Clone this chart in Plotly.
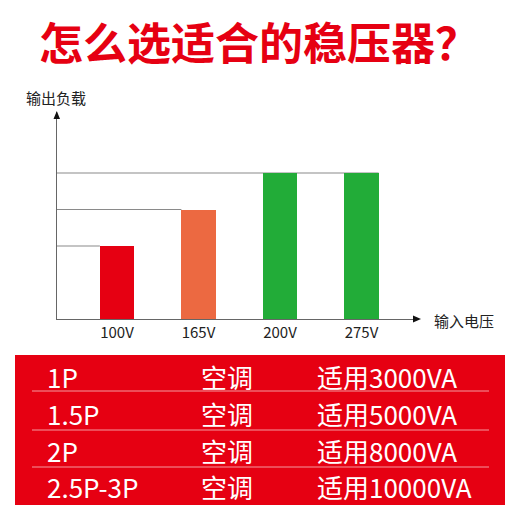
import plotly.graph_objects as go

W = H = 520

# ---- data ----
categories = ["100V", "165V", "200V", "275V"]
load_values = [2, 3, 4, 4]
bar_colors = ["#E60012", "#EC6941", "#22AC38", "#22AC38"]

title_text = "怎么选适合的稳压器？"
y_label = "输出负载"
x_label = "输入电压"

ac_power = ["1P", "1.5P", "2P", "2.5P-3P"]
ac_type = ["空调", "空调", "空调", "空调"]
ac_capacity = ["适用3000VA", "适用5000VA", "适用8000VA", "适用10000VA"]

FONT = "Noto Sans CJK SC"
RED = "#E60012"


def px(x):
    return x / W


def py(y):
    return 1 - y / H


# axis geometry (pixels)
ax_left, ax_right = 57, 415
ax_bottom, ax_top = 319, 112
unit_x = 81.5
first_center = 117
x_range = [-(first_center - ax_left) / unit_x, (ax_right - first_center) / unit_x]
unit_y = 36.5
y_range = [0, (ax_bottom - ax_top) / unit_y]
bar_w = 0.42

xs = list(range(len(categories)))

fig = go.Figure()
fig.add_trace(go.Bar(
    x=xs, y=load_values, width=bar_w,
    marker=dict(color=bar_colors, line=dict(width=0)),
    hoverinfo="skip", showlegend=False,
))

shapes = []
# reference lines from y-axis to bars
seen = {}
for i, v in enumerate(load_values):
    seen.setdefault(v, []).append(i)
for v, idxs in seen.items():
    end = max(idxs) + bar_w / 2 if len(idxs) > 1 else idxs[0] - bar_w / 2
    shapes.append(dict(type="line", xref="x", yref="y", x0=x_range[0], x1=end,
                       y0=v, y1=v, line=dict(color="#8a8a8a", width=1.2), layer="below"))

# axis arrowheads
shapes.append(dict(type="path", xref="paper", yref="paper",
                   path=f"M {px(53.5)} {py(119)} L {px(56.8)} {py(111)} L {px(60)} {py(119)} Z",
                   fillcolor="#111", line=dict(width=0)))
shapes.append(dict(type="path", xref="paper", yref="paper",
                   path=f"M {px(413)} {py(315.5)} L {px(421)} {py(319)} L {px(413)} {py(322.5)} Z",
                   fillcolor="#111", line=dict(width=0)))

# table background
tbl_x0, tbl_x1, tbl_y0, tbl_y1 = 15, 505, 355, 505
shapes.append(dict(type="rect", xref="paper", yref="paper",
                   x0=px(tbl_x0), x1=px(tbl_x1), y0=py(tbl_y1), y1=py(tbl_y0),
                   fillcolor=RED, line=dict(width=0)))
row_centers = [376, 413, 450, 486]
for yline in [391, 430, 467]:
    shapes.append(dict(type="line", xref="paper", yref="paper",
                       x0=px(32), x1=px(489), y0=py(yline), y1=py(yline),
                       line=dict(color="rgba(255,255,255,0.6)", width=1)))

annotations = [
    dict(text=f"<b>{title_text}</b>", x=px(259), y=py(41), xref="paper", yref="paper",
         showarrow=False, xanchor="center", yanchor="middle",
         font=dict(family=FONT, size=44, color=RED)),
    dict(text=y_label, x=px(24), y=py(97), xref="paper", yref="paper",
         showarrow=False, xanchor="left", yanchor="middle",
         font=dict(family=FONT, size=15, color="#222")),
    dict(text=x_label, x=px(432), y=py(320), xref="paper", yref="paper",
         showarrow=False, xanchor="left", yanchor="middle",
         font=dict(family=FONT, size=15, color="#222")),
]
col_x = [45, 199, 315]
for r, yc in enumerate(row_centers):
    for c, txt in enumerate([ac_power[r], ac_type[r], ac_capacity[r]]):
        annotations.append(dict(text=txt, x=px(col_x[c]), y=py(yc), xref="paper", yref="paper",
                                showarrow=False, xanchor="left", yanchor="middle",
                                font=dict(family=FONT, size=26, color="white")))

fig.update_layout(
    width=W, height=H, margin=dict(l=0, r=0, t=0, b=0),
    paper_bgcolor="white", plot_bgcolor="white",
    shapes=shapes, annotations=annotations, bargap=0,
    xaxis=dict(domain=[px(ax_left), px(ax_right)], range=x_range,
               tickvals=xs, ticktext=categories, showgrid=False, zeroline=False,
               showline=True, linecolor="#666", linewidth=1.2, ticks="",
               tickfont=dict(family=FONT, size=15, color="#222"), fixedrange=True),
    yaxis=dict(domain=[py(ax_bottom), py(ax_top)], range=y_range,
               showticklabels=False, showgrid=False, zeroline=False,
               showline=True, linecolor="#666", linewidth=1.2, ticks="", fixedrange=True),
)

fig.write_html("out.html", config={"displayModeBar": False},
               post_script="document.body.style.margin='0';document.body.style.overflow='hidden';")
